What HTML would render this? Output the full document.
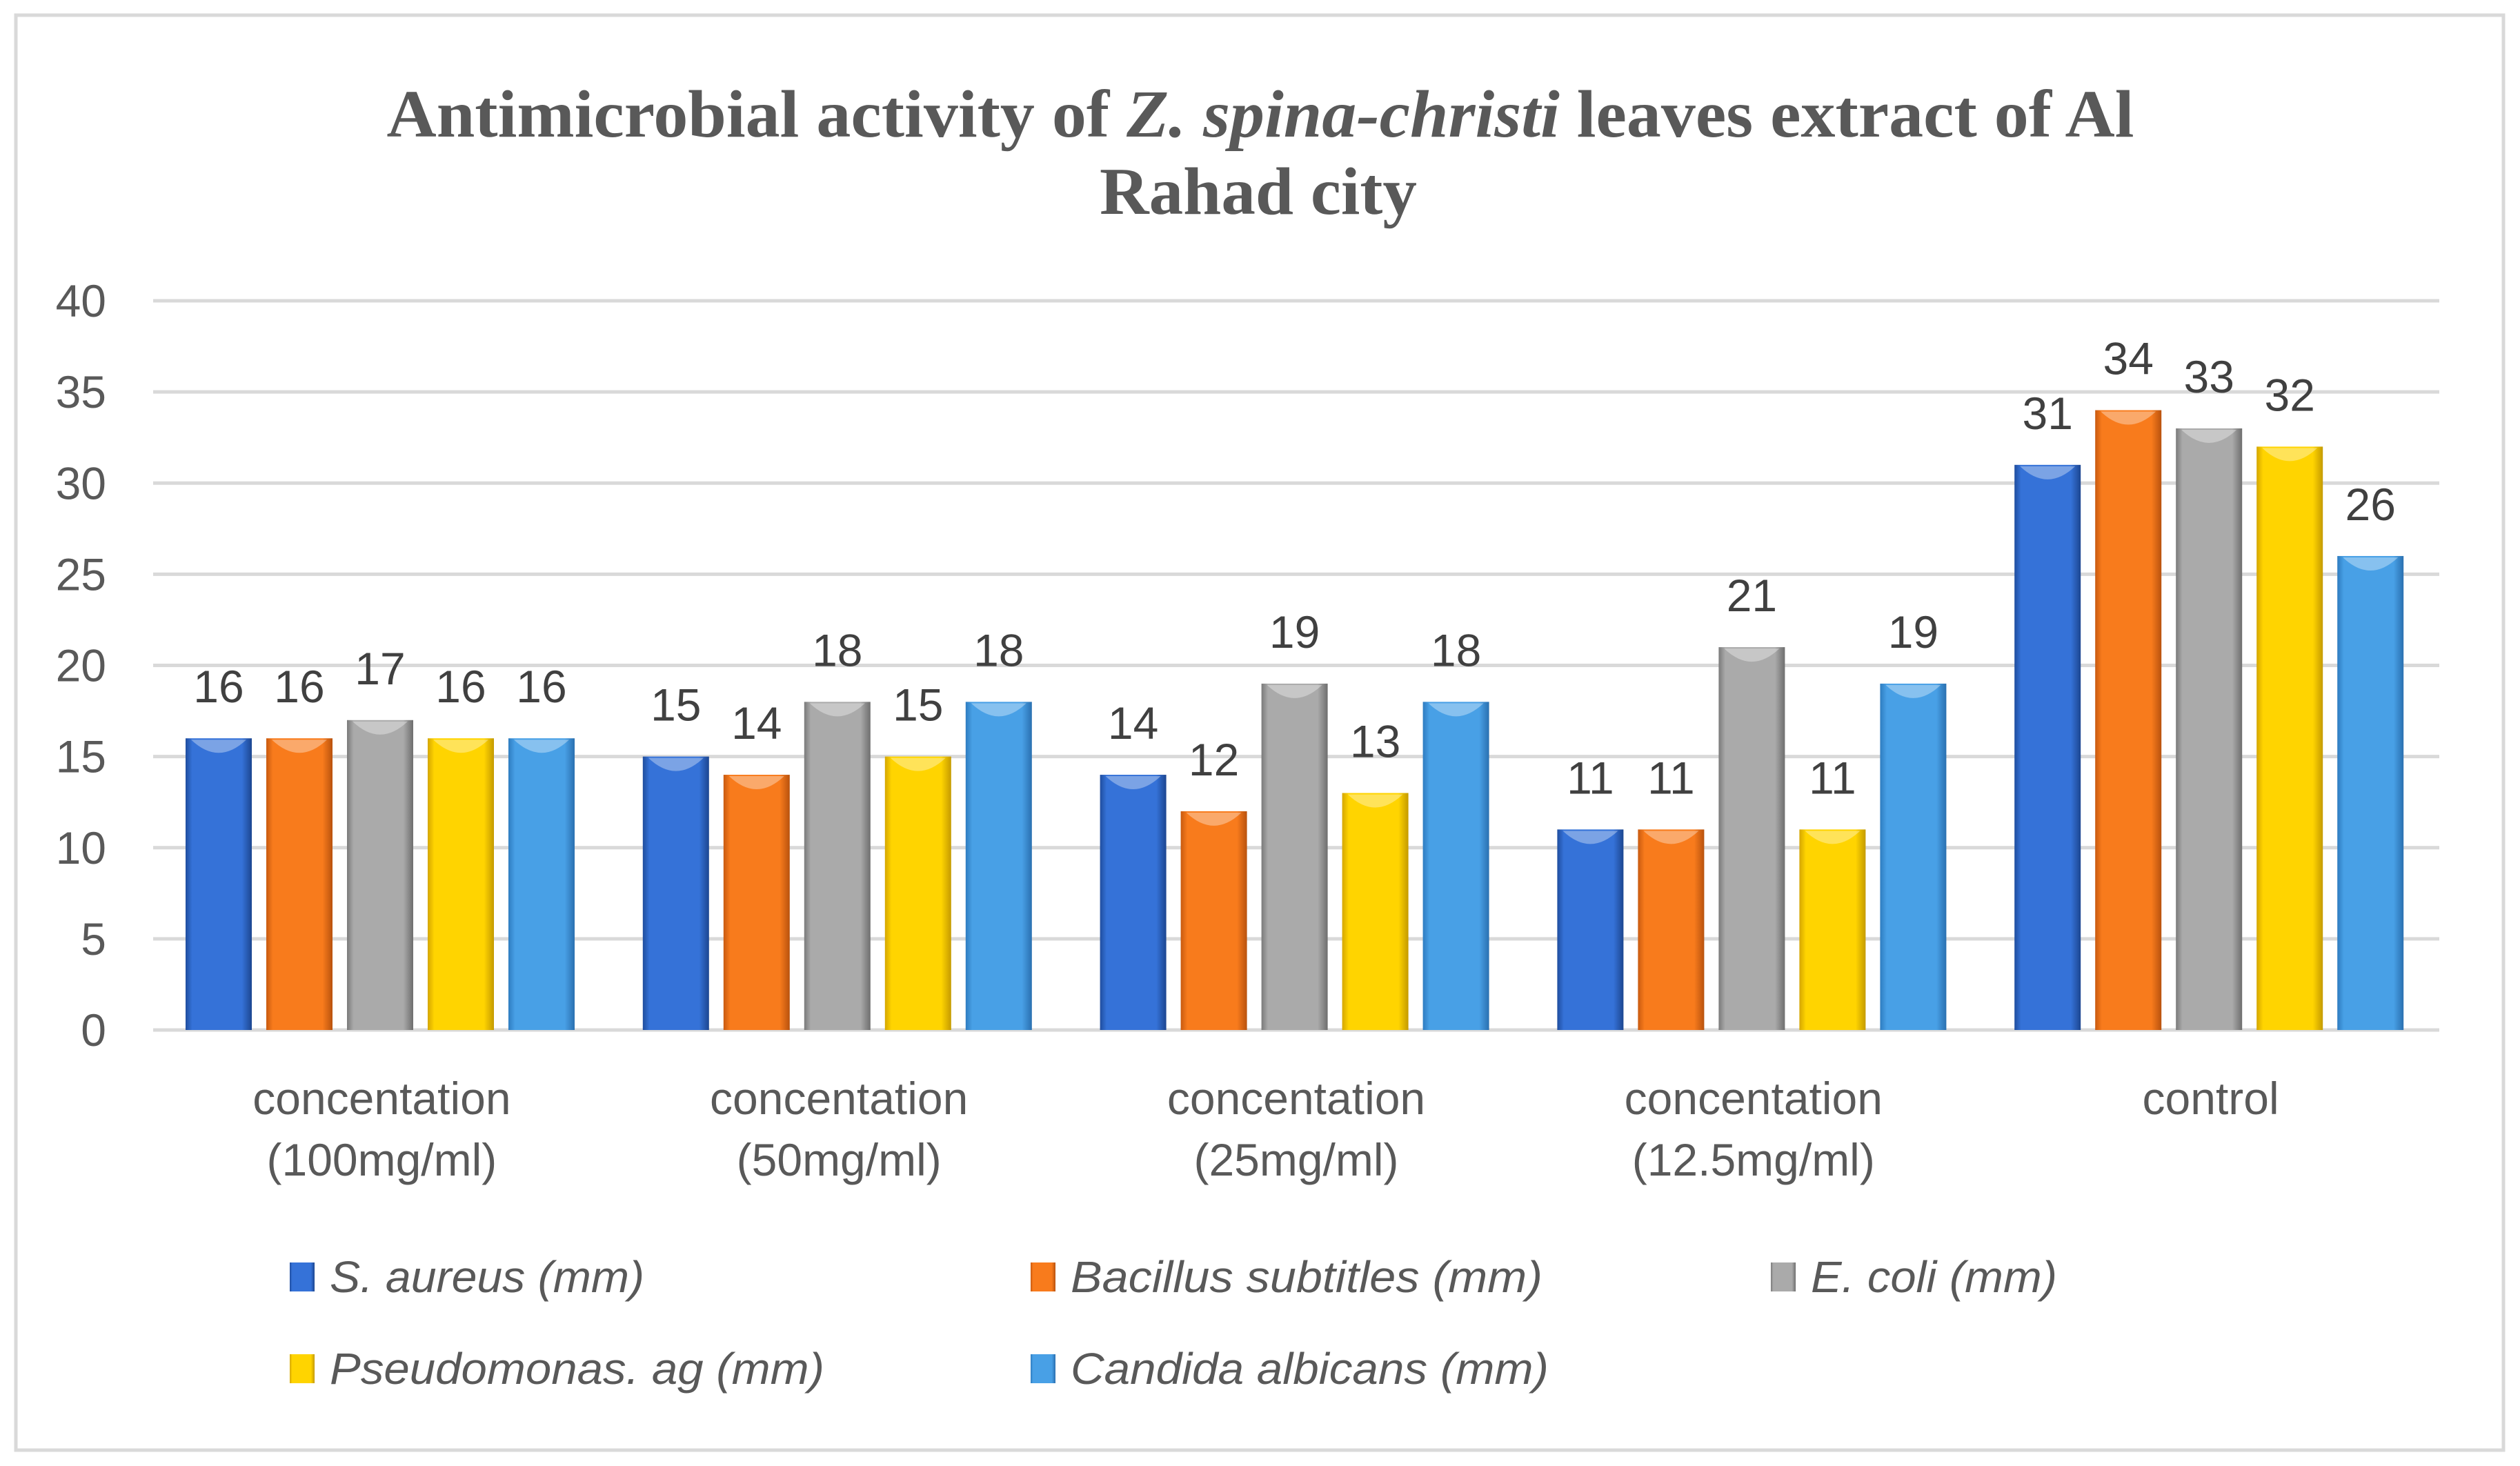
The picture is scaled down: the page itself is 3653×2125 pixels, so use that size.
<!DOCTYPE html>
<html><head><meta charset="utf-8"><style>
html,body{margin:0;padding:0;background:#fff;}
svg{display:block;}
</style></head><body>
<svg id="chart" width="3653" height="2125" xmlns="http://www.w3.org/2000/svg">
<defs>
</defs>
<rect x="23" y="22" width="3606" height="2080" fill="#fff" stroke="#d9d9d9" stroke-width="5"/>
<text x="1827" y="198" text-anchor="middle" font-family="Liberation Serif, serif" font-weight="bold" font-size="98" fill="#595959" textLength="2533" lengthAdjust="spacingAndGlyphs">Antimicrobial activity of <tspan font-style="italic">Z. spina-christi</tspan> leaves extract of Al</text>
<text x="1824" y="310" text-anchor="middle" font-family="Liberation Serif, serif" font-weight="bold" font-size="98" fill="#595959" textLength="460" lengthAdjust="spacingAndGlyphs">Rahad city</text>
<g id="grid"></g>
<g id="bars"></g>
<g id="legend"></g>
</svg>
<script>
const categories = ["concentation|(100mg/ml)", "concentation|(50mg/ml)", "concentation|(25mg/ml)", "concentation|(12.5mg/ml)", "control"];
const seriesNames = ["S. aureus (mm)", "Bacillus subtitles (mm)", "E. coli (mm)", "Pseudomonas. ag (mm)", "Candida albicans (mm)"];
const sAureus = [16, 15, 14, 11, 31];
const bacillus = [16, 14, 12, 11, 34];
const eColi = [17, 18, 19, 21, 33];
const pseudomonas = [16, 15, 13, 11, 32];
const candida = [16, 18, 18, 19, 26];
const yTicks = [0, 5, 10, 15, 20, 25, 30, 35, 40];

const series = [sAureus, bacillus, eColi, pseudomonas, candida];
const colors = [["#1f4d9e","#3572d8","#1c4690"],["#c85a10","#f87b1c","#b8520e"],["#7a7a7a","#aaaaaa","#6e6e6e"],["#d4a600","#ffd400","#c49a00"],["#2e7cc0","#48a0e6","#2a70b0"]];
const NS = "http://www.w3.org/2000/svg";
const svg = document.getElementById("chart");
const defs = svg.querySelector("defs");
const plotL = 222, plotR = 3536, y0 = 1493, y40 = 436;
const yMax = 40;
function yScale(v){ return y0 - (v / yMax) * (y0 - y40); }
const groupW = (plotR - plotL) / categories.length;
function xBar(ci, si){ return plotL + ci * groupW + 47 + si * 117; }
const barW = 96;
function mk(tag, attrs, parent){ const e = document.createElementNS(NS, tag); for (const k in attrs) e.setAttribute(k, attrs[k]); parent.appendChild(e); return e; }

colors.forEach((c, i) => {
  const g = mk("linearGradient", {id: "g" + i, x1: "0", x2: "1", y1: "0", y2: "0"}, defs);
  mk("stop", {offset: "0", "stop-color": c[0]}, g);
  mk("stop", {offset: "0.1", "stop-color": c[1]}, g);
  mk("stop", {offset: "0.85", "stop-color": c[1]}, g);
  mk("stop", {offset: "1", "stop-color": c[2]}, g);
});

const grid = document.getElementById("grid");
yTicks.forEach(t => {
  const y = yScale(t);
  const l = mk("line", {x1: plotL, x2: plotR, y1: y, y2: y, stroke: "#d9d9d9", "stroke-width": 5}, grid);
  
  
  const tx = mk("text", {x: 154, y: y + 23, "text-anchor": "end", "font-family": "Liberation Sans, sans-serif", "font-size": 66, fill: "#595959"}, grid);
  tx.textContent = t;
  
  
});

const bars = document.getElementById("bars");
categories.forEach((cat, ci) => {
  const cx = plotL + ci * groupW + groupW / 2;
  const lines = cat.split("|");
  lines.forEach((ln, li) => {
    const t = mk("text", {x: cx, y: 1615 + li * 89, "text-anchor": "middle", "font-family": "Liberation Sans, sans-serif", "font-size": 66, fill: "#595959"}, bars);
    t.textContent = ln;
    
    
  });
  series.forEach((s, si) => {
    const v = s[ci];
    const x = xBar(ci, si), y = yScale(v);
    const r = mk("rect", {x: x, y: y, width: barW, height: y0 - y, fill: "url(#g" + si + ")"}, bars);
    
    
    const hl = mk("path", {d: `M${x+8} ${y+2} L${x+barW-8} ${y+2} Q${x+barW/2} ${y+40} ${x+8} ${y+2} Z`, fill: "#ffffff", opacity: 0.35}, bars);
    
    
    const t = mk("text", {x: x + barW / 2, y: y - 52, "text-anchor": "middle", "font-family": "Liberation Sans, sans-serif", "font-size": 66, fill: "#404040"}, bars);
    t.textContent = v;
    
    
  });
});

const legend = document.getElementById("legend");
const legPos = [[420,1851],[1494,1851],[2567,1851],[420,1984],[1494,1984]];
const legLen = [456, 684, 357, 717, 693];
seriesNames.forEach((n, i) => {
  const [lx, ly] = legPos[i];
  const m = mk("rect", {x: lx, y: ly - 21, width: 36, height: 42, fill: "url(#g" + i + ")"}, legend);
  
  
  const t = mk("text", {x: lx + 58, y: ly + 22, "font-family": "Liberation Sans, sans-serif", "font-style": "italic", "font-size": 64, fill: "#595959", textLength: legLen[i], lengthAdjust: "spacingAndGlyphs"}, legend);
  t.textContent = n;
  
  
});
</script>
</body></html>
